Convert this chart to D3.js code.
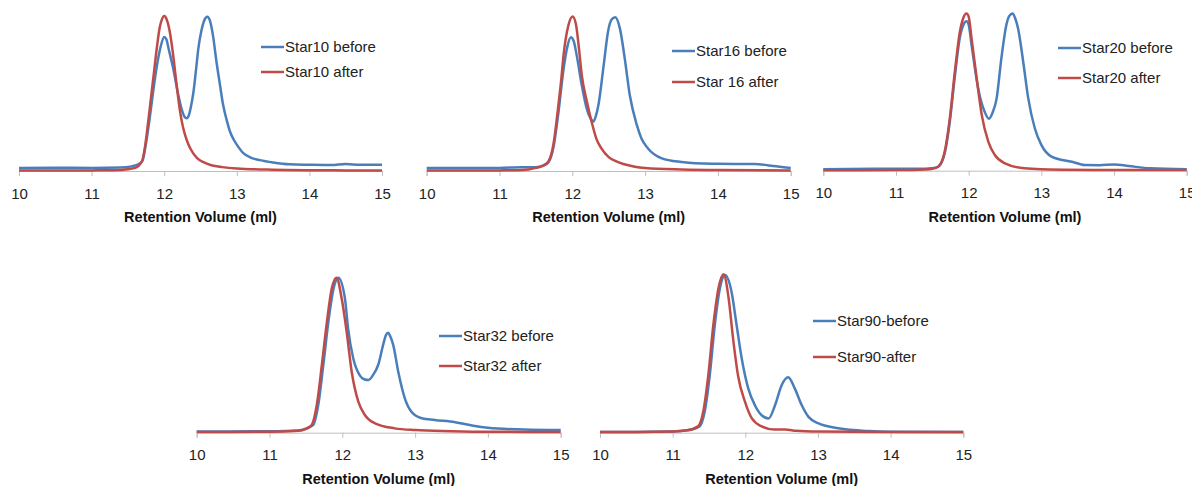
<!DOCTYPE html>
<html>
<head>
<meta charset="utf-8">
<script src="https://cdn.jsdelivr.net/npm/d3@7"></script>
<style>
  html, body { margin: 0; padding: 0; background: #ffffff; }
  svg { display: block; }
</style>
</head>
<body>
<svg id="chart" width="1192" height="486"></svg>
<script>
// ---------- DATA (retention volume in ml, normalised detector signal) ----------
const tickValues = [10, 11, 12, 13, 14, 15];
const axisTitle = "Retention Volume (ml)";
const sampleNames = ["Star10", "Star16", "Star20", "Star32", "Star90"];
const legendBefore = ["Star10 before", "Star16 before", "Star20 before", "Star32 before", "Star90-before"];
const legendAfter  = ["Star10 after",  "Star 16 after", "Star20 after",  "Star32 after",  "Star90-after"];

const star10Before = [[10,0.02],[10.5,0.021],[11,0.02],[11.4,0.022],[11.55,0.03],[11.65,0.045],[11.7,0.065],[11.75,0.18],[11.8,0.34],[11.85,0.52],[11.9,0.68],[11.95,0.80],[12.0,0.865],[12.03,0.85],[12.06,0.79],[12.125,0.66],[12.19,0.50],[12.24,0.40],[12.28,0.35],[12.31,0.34],[12.34,0.36],[12.37,0.42],[12.40,0.50],[12.44,0.66],[12.47,0.79],[12.51,0.90],[12.55,0.97],[12.594,0.995],[12.63,0.97],[12.67,0.88],[12.72,0.705],[12.77,0.55],[12.81,0.43],[12.86,0.33],[12.91,0.25],[12.96,0.20],[13.0,0.17],[13.09,0.115],[13.2,0.085],[13.32,0.07],[13.5,0.055],[13.73,0.043],[14.0,0.04],[14.3,0.038],[14.5,0.045],[14.7,0.04],[15,0.04]];
const star10After = [[10,0.003],[10.5,0.003],[11,0.004],[11.3,0.005],[11.5,0.012],[11.6,0.02],[11.65,0.035],[11.7,0.07],[11.74,0.17],[11.78,0.32],[11.82,0.48],[11.86,0.64],[11.9,0.80],[11.94,0.93],[11.97,0.98],[12.0,1.0],[12.04,0.97],[12.08,0.89],[12.12,0.76],[12.17,0.56],[12.22,0.38],[12.26,0.28],[12.31,0.20],[12.36,0.145],[12.45,0.085],[12.55,0.055],[12.65,0.037],[12.8,0.025],[13.0,0.016],[13.5,0.008],[14,0.005],[14.5,0.004],[15,0.003]];

const star16Before = [[10,0.02],[10.5,0.02],[11,0.02],[11.3,0.025],[11.5,0.025],[11.6,0.035],[11.67,0.055],[11.74,0.15],[11.81,0.38],[11.88,0.66],[11.93,0.80],[11.98,0.865],[12.02,0.84],[12.06,0.75],[12.13,0.555],[12.20,0.40],[12.25,0.34],[12.29,0.32],[12.32,0.35],[12.36,0.43],[12.43,0.68],[12.49,0.90],[12.54,0.98],[12.59,0.995],[12.655,0.92],[12.72,0.73],[12.79,0.49],[12.885,0.30],[12.95,0.21],[13.04,0.146],[13.23,0.082],[13.5,0.058],[13.69,0.05],[14,0.047],[14.5,0.045],[14.8,0.03],[15,0.02]];
const star16After = [[10,0.003],[10.5,0.003],[11,0.004],[11.2,0.005],[11.4,0.01],[11.5,0.02],[11.6,0.035],[11.67,0.06],[11.74,0.17],[11.81,0.43],[11.85,0.60],[11.88,0.75],[11.945,0.94],[12.005,1.0],[12.05,0.95],[12.09,0.80],[12.13,0.62],[12.2,0.45],[12.27,0.31],[12.33,0.21],[12.4,0.146],[12.5,0.09],[12.59,0.065],[12.7,0.045],[12.86,0.028],[13.0,0.02],[13.5,0.01],[14,0.006],[15,0.004]];

const star20Before = [[10,0.01],[11,0.012],[11.4,0.012],[11.5,0.015],[11.58,0.025],[11.67,0.11],[11.74,0.31],[11.81,0.60],[11.88,0.85],[11.93,0.93],[11.97,0.95],[12.0,0.93],[12.04,0.80],[12.13,0.525],[12.22,0.375],[12.28,0.33],[12.33,0.37],[12.385,0.46],[12.45,0.715],[12.52,0.93],[12.56,0.985],[12.605,1.0],[12.64,0.97],[12.68,0.905],[12.75,0.695],[12.82,0.46],[12.91,0.27],[13.0,0.164],[13.14,0.09],[13.42,0.057],[13.6,0.036],[13.8,0.035],[14,0.04],[14.2,0.03],[14.5,0.015],[15,0.01]];
const star20After = [[10,0.003],[11,0.004],[11.4,0.008],[11.5,0.012],[11.58,0.025],[11.67,0.12],[11.74,0.33],[11.81,0.63],[11.88,0.885],[11.925,0.97],[11.97,1.0],[12.0,0.98],[12.04,0.84],[12.11,0.59],[12.18,0.355],[12.27,0.185],[12.36,0.10],[12.5,0.047],[12.77,0.015],[13,0.01],[14,0.005],[15,0.004]];

const star32Before = [[10,0.008],[11,0.01],[11.4,0.015],[11.52,0.03],[11.6,0.05],[11.67,0.18],[11.74,0.44],[11.81,0.72],[11.88,0.93],[11.945,1.0],[12.035,0.87],[12.08,0.67],[12.15,0.48],[12.24,0.37],[12.30,0.345],[12.36,0.34],[12.42,0.37],[12.495,0.44],[12.56,0.565],[12.6,0.63],[12.63,0.645],[12.66,0.62],[12.70,0.565],[12.77,0.39],[12.86,0.22],[12.95,0.135],[13.09,0.093],[13.27,0.082],[13.55,0.068],[13.8,0.045],[14,0.032],[14.5,0.02],[15,0.017]];
const star32After = [[10,0.005],[11,0.006],[11.4,0.012],[11.5,0.025],[11.58,0.05],[11.65,0.18],[11.72,0.44],[11.79,0.72],[11.855,0.93],[11.92,1.0],[11.99,0.87],[12.06,0.65],[12.13,0.39],[12.22,0.20],[12.31,0.114],[12.45,0.06],[12.72,0.028],[13,0.017],[13.5,0.01],[14,0.006],[15,0.005]];

const star90Before = [[10,0.005],[10.5,0.005],[11,0.008],[11.2,0.015],[11.37,0.04],[11.44,0.13],[11.51,0.36],[11.58,0.68],[11.65,0.91],[11.72,0.995],[11.81,0.89],[11.88,0.68],[11.95,0.47],[12.04,0.28],[12.13,0.175],[12.225,0.11],[12.32,0.09],[12.41,0.175],[12.50,0.30],[12.59,0.35],[12.68,0.28],[12.775,0.175],[12.87,0.10],[13.0,0.06],[13.28,0.028],[13.7,0.01],[14,0.006],[15,0.005]];
const star90After = [[10,0.005],[10.5,0.005],[11,0.008],[11.2,0.015],[11.35,0.04],[11.42,0.13],[11.49,0.36],[11.56,0.68],[11.63,0.91],[11.70,1.0],[11.77,0.85],[11.83,0.60],[11.90,0.36],[11.995,0.196],[12.09,0.09],[12.225,0.04],[12.4,0.02],[12.55,0.02],[12.7,0.012],[13,0.007],[14,0.004],[15,0.004]];

const beforeSeries = [star10Before, star16Before, star20Before, star32Before, star90Before];
const afterSeries  = [star10After,  star16After,  star20After,  star32After,  star90After];

// ---------- LAYOUT ----------
const panels = [
  {x0: 19,    x1: 382,   axisY: 171,   topY: 16,    legX: 261,  legY1: 47,  legY2: 72},
  {x0: 426.7, x1: 790.7, axisY: 171,   topY: 16.5,  legX: 672,  legY1: 51,  legY2: 82},
  {x0: 823.3, x1: 1186.7,axisY: 170.7, topY: 13.5,  legX: 1058, legY1: 48,  legY2: 78},
  {x0: 196.7, x1: 560.7, axisY: 432.7, topY: 277.7, legX: 439,  legY1: 336, legY2: 366},
  {x0: 600,   x1: 963.3, axisY: 432.7, topY: 274.3, legX: 813,  legY1: 321, legY2: 357}
];
const blue = "#4A7EBB", red = "#BE4B48";
const font = "'Liberation Sans', Arial, sans-serif";

const svg = d3.select("#chart");

panels.forEach((p, i) => {
  const x = d3.scaleLinear().domain([10, 15]).range([p.x0, p.x1]);
  const y = d3.scaleLinear().domain([0, 1]).range([p.axisY, p.topY]);
  const g = svg.append("g");

  // axis
  const axis = d3.axisBottom(x).tickValues(tickValues).tickSize(5).tickPadding(12).tickFormat(d3.format("d"));
  const ag = g.append("g").attr("transform", `translate(0,${p.axisY})`).call(axis);
  ag.select(".domain").attr("stroke", "#BFBFBF").attr("stroke-width", 1);
  ag.selectAll(".tick line").attr("stroke", "#BFBFBF");
  ag.selectAll(".tick text").attr("font-family", font).attr("font-size", 15).attr("fill", "#222");

  g.append("text")
    .attr("x", (p.x0 + p.x1) / 2).attr("y", p.axisY + 51)
    .attr("text-anchor", "middle")
    .attr("font-family", font).attr("font-size", 14.5).attr("font-weight", "bold").attr("fill", "#111")
    .text(axisTitle);

  const line = d3.line().x(d => x(d[0])).y(d => y(d[1])).curve(d3.curveMonotoneX);

  g.append("path").datum(beforeSeries[i]).attr("d", line)
    .attr("fill", "none").attr("stroke", blue).attr("stroke-width", 2.5).attr("stroke-linejoin", "round");
  g.append("path").datum(afterSeries[i]).attr("d", line)
    .attr("fill", "none").attr("stroke", red).attr("stroke-width", 2.5).attr("stroke-linejoin", "round");

  // legend
  [[legendBefore[i], blue, p.legY1], [legendAfter[i], red, p.legY2]].forEach(([label, col, ly]) => {
    g.append("line").attr("x1", p.legX).attr("x2", p.legX + 23).attr("y1", ly).attr("y2", ly)
      .attr("stroke", col).attr("stroke-width", 2.5);
    g.append("text").attr("x", p.legX + 24).attr("y", ly + 5)
      .attr("font-family", font).attr("font-size", 15).attr("fill", "#222").text(label);
  });
});
</script>
</body>
</html>
